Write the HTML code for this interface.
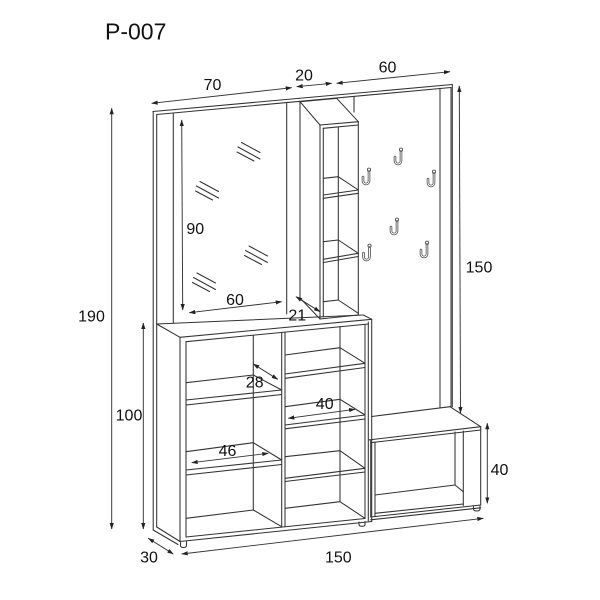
<!DOCTYPE html>
<html>
<head>
<meta charset="utf-8">
<style>
html,body{margin:0;padding:0;background:#fff;}
svg{display:block;}
text{font-family:"Liberation Sans",Arial,sans-serif;fill:#111;}
</style>
</head>
<body>
<svg width="600" height="600" viewBox="0 0 600 600" xmlns="http://www.w3.org/2000/svg">
<defs>
<marker id="a" markerWidth="7" markerHeight="6" refX="6" refY="3" orient="auto-start-reverse" markerUnits="userSpaceOnUse">
<path d="M0,0.9 L6.5,3 L0,5.1z" fill="#222"/>
</marker>
<g id="hook">
<path d="M1,-6.5 L1,3 A3,3 0 0 1 -5,3 L-5,-1" fill="none" stroke="#555" stroke-width="2.6" stroke-linecap="round"/>
<path d="M1,-6.5 L1,3 A3,3 0 0 1 -5,3 L-5,-1" fill="none" stroke="#fff" stroke-width="0.9" stroke-linecap="round"/>
<circle cx="1" cy="-8.3" r="1.6" fill="none" stroke="#555" stroke-width="0.9"/>
</g>
</defs>

<rect width="600" height="600" fill="#fff"/>

<text x="105" y="39.5" font-size="23">P-007</text>

<g fill="none" stroke="#333" stroke-width="1.05" stroke-linecap="round">
<!-- back panel -->
<line x1="153" y1="111.5" x2="452.3" y2="84.5"/>
<line x1="156.7" y1="114.5" x2="451" y2="87.5"/>
<line x1="153.2" y1="111.5" x2="153.2" y2="530"/>
<line x1="156.7" y1="114.5" x2="156.7" y2="527"/>
<line x1="173.3" y1="113" x2="173.3" y2="323"/>
<line x1="286.7" y1="103.5" x2="286.7" y2="314"/>
<line x1="300" y1="102" x2="300" y2="298"/>
<line x1="354" y1="96.5" x2="354" y2="112"/>
<line x1="440" y1="88.3" x2="440" y2="407.6"/>
<line x1="451" y1="87.5" x2="451" y2="406.8"/>
<line x1="452.3" y1="84.5" x2="452.3" y2="406.7"/>

<!-- mirror hatches -->
<line x1="241.5" y1="142.5" x2="260" y2="152.5"/>
<line x1="238" y1="147" x2="260" y2="159"/>
<line x1="237" y1="152" x2="254" y2="161"/>

<line x1="200" y1="181.5" x2="218.5" y2="191.5"/>
<line x1="196.5" y1="186" x2="218.5" y2="198"/>
<line x1="195.5" y1="191" x2="212.5" y2="200"/>

<line x1="249" y1="246" x2="267.5" y2="256"/>
<line x1="245.5" y1="250.5" x2="267.5" y2="262.5"/>
<line x1="244.5" y1="255.5" x2="261.5" y2="264.5"/>

<line x1="197" y1="273" x2="215.5" y2="283"/>
<line x1="193.5" y1="277.5" x2="215.5" y2="289.5"/>
<line x1="192.5" y1="282.5" x2="209.5" y2="291.5"/>

<!-- shelf column -->
<line x1="300" y1="101.7" x2="336.7" y2="98.3"/>
<line x1="336.7" y1="98.3" x2="358.3" y2="121.7"/>
<line x1="300" y1="101.7" x2="320" y2="125"/>
<line x1="320" y1="125" x2="358.3" y2="121.7"/>
<line x1="323.3" y1="128.3" x2="358.3" y2="125"/>
<line x1="320" y1="125" x2="320" y2="319"/>
<line x1="323.3" y1="128.3" x2="323.3" y2="317"/>
<line x1="358.3" y1="121.7" x2="358.3" y2="315"/>
<line x1="338.3" y1="127" x2="338.3" y2="300"/>
<line x1="300" y1="298" x2="320" y2="319"/>
<!-- column shelves -->
<line x1="323.3" y1="178.3" x2="338.3" y2="176.7"/>
<line x1="338.3" y1="176.7" x2="358.3" y2="190"/>
<line x1="323.3" y1="195" x2="358.3" y2="190"/>
<line x1="323.3" y1="198.3" x2="358.3" y2="193.3"/>
<line x1="323.3" y1="241.7" x2="338.3" y2="240"/>
<line x1="338.3" y1="240" x2="358.3" y2="253.3"/>
<line x1="323.3" y1="259.3" x2="358.3" y2="253.3"/>
<line x1="323.3" y1="262.5" x2="358.3" y2="256.5"/>
<line x1="323.3" y1="301.7" x2="338.3" y2="300"/>
<line x1="338.3" y1="300" x2="358.3" y2="313.3"/>
<line x1="320" y1="319" x2="358.3" y2="315"/>

<!-- lower cabinet -->
<line x1="156.7" y1="324" x2="363.3" y2="315"/>
<line x1="363.3" y1="315" x2="371.7" y2="319.3"/>
<line x1="156.7" y1="324" x2="180" y2="337.3"/>
<line x1="180" y1="337.3" x2="371.7" y2="319.3"/>
<line x1="186" y1="341.7" x2="368.3" y2="324"/>
<line x1="180" y1="337.3" x2="180" y2="541.5"/>
<line x1="186" y1="341.7" x2="186" y2="537"/>
<line x1="281.7" y1="332.7" x2="281.7" y2="527"/>
<line x1="285" y1="332.3" x2="285" y2="526.5"/>
<line x1="253.3" y1="335.5" x2="253.3" y2="510"/>
<line x1="340" y1="326.5" x2="340" y2="501.7"/>
<line x1="365" y1="324.5" x2="365" y2="518.5"/>
<line x1="368.3" y1="322" x2="368.3" y2="521"/>
<line x1="371.7" y1="319.3" x2="371.7" y2="521.5"/>

<!-- left shelves -->
<line x1="186" y1="382.7" x2="253.3" y2="375"/>
<line x1="253.3" y1="375" x2="281.7" y2="390"/>
<line x1="186" y1="400" x2="281.7" y2="390"/>
<line x1="186" y1="405" x2="281.7" y2="394.5"/>
<line x1="186" y1="451.7" x2="253.3" y2="442.7"/>
<line x1="253.3" y1="442.7" x2="281.7" y2="460"/>
<line x1="186" y1="470" x2="281.7" y2="460"/>
<line x1="186" y1="475" x2="281.7" y2="464.5"/>
<line x1="186" y1="518.3" x2="253.3" y2="510"/>
<line x1="253.3" y1="510" x2="281.7" y2="526.7"/>

<!-- right shelves -->
<line x1="285" y1="355" x2="340" y2="347.7"/>
<line x1="340" y1="347.7" x2="365" y2="363.3"/>
<line x1="285" y1="374" x2="365" y2="363.3"/>
<line x1="285" y1="378.3" x2="365" y2="367.5"/>
<line x1="285" y1="406.7" x2="340" y2="399.3"/>
<line x1="340" y1="399.3" x2="365" y2="415"/>
<line x1="285" y1="425" x2="365" y2="415"/>
<line x1="285" y1="428.8" x2="365" y2="419"/>
<line x1="285" y1="456.7" x2="340" y2="450.7"/>
<line x1="340" y1="450.7" x2="365" y2="468.3"/>
<line x1="285" y1="478.3" x2="365" y2="468.3"/>
<line x1="285" y1="481.5" x2="365" y2="472"/>
<line x1="285" y1="508.3" x2="340" y2="501.7"/>
<line x1="340" y1="501.7" x2="365" y2="518.3"/>

<!-- cabinet bottom -->
<line x1="186" y1="537" x2="365" y2="518.5"/>
<line x1="180" y1="541.5" x2="371.7" y2="521.5"/>
<line x1="156.7" y1="527" x2="180" y2="541.5"/>
<line x1="153.2" y1="530" x2="178" y2="544.5"/>
<path d="M180.5,542.5 L180.5,545.5 Q180.5,547.5 183.5,547.5 Q186.5,547.5 186.5,545.5 L186.5,541.8"/>
<path d="M359,522 L359,524.5 Q359,526.3 362,526.3 Q365,526.3 365,524.5 L365,521.5"/>

<!-- bench -->
<line x1="371.7" y1="416.5" x2="450" y2="406.7"/>
<line x1="450" y1="406.7" x2="480.7" y2="426.7"/>
<line x1="368.3" y1="440" x2="480.7" y2="426.7"/>
<line x1="370.7" y1="442.7" x2="480.7" y2="430"/>
<line x1="370.7" y1="440" x2="370.7" y2="517"/>
<line x1="375" y1="442.2" x2="375" y2="516"/>
<line x1="480.7" y1="426.7" x2="480.7" y2="505"/>
<line x1="463.3" y1="431" x2="463.3" y2="505.5"/>
<line x1="455" y1="432" x2="455" y2="485"/>
<line x1="375" y1="495" x2="455" y2="485"/>
<line x1="455" y1="485" x2="463.3" y2="491.7"/>
<line x1="375" y1="513.3" x2="463.3" y2="504"/>
<line x1="370.7" y1="517" x2="480.7" y2="505"/>
<line x1="370.7" y1="519.8" x2="480.7" y2="507.8"/>
<path d="M473.5,506.5 L473.5,509 Q473.5,511 476.8,511 Q480,511 480,509 L480,506"/>
</g>

<!-- hooks -->
<use href="#hook" x="400" y="158"/>
<use href="#hook" x="368" y="178"/>
<use href="#hook" x="433" y="180"/>
<use href="#hook" x="396" y="228"/>
<use href="#hook" x="368.5" y="254"/>
<use href="#hook" x="426" y="251"/>

<!-- dimension lines -->
<g fill="none" stroke="#333" stroke-width="0.95" marker-start="url(#a)" marker-end="url(#a)">
<line x1="151.7" y1="103.3" x2="291.7" y2="87.7"/>
<line x1="296.7" y1="86.7" x2="331.7" y2="83.3"/>
<line x1="336.7" y1="83.3" x2="450" y2="71.7"/>
<line x1="111.7" y1="108.3" x2="111.7" y2="529"/>
<line x1="143.3" y1="323" x2="143.3" y2="529"/>
<line x1="459.3" y1="86" x2="460.5" y2="413"/>
<line x1="181.7" y1="120" x2="182.7" y2="310"/>
<line x1="189.3" y1="312.7" x2="281.7" y2="301.7"/>
<line x1="296" y1="296.7" x2="320" y2="311.7"/>
<line x1="253.3" y1="364" x2="277.7" y2="379.3"/>
<line x1="288.3" y1="418.3" x2="355" y2="409.3"/>
<line x1="191.7" y1="462.7" x2="268.3" y2="453.3"/>
<line x1="487.3" y1="423.3" x2="487.3" y2="503.3"/>
<line x1="181.7" y1="554" x2="483.3" y2="518.3"/>
<line x1="148.3" y1="538.3" x2="173.3" y2="554"/>
</g>

<!-- labels -->
<g font-size="16" text-anchor="middle">
<text x="212.5" y="90">70</text>
<text x="304" y="80.7">20</text>
<text x="387.5" y="72.7">60</text>
<text x="91.5" y="321.5">190</text>
<text x="129" y="420.7">100</text>
<text x="479" y="272.7">150</text>
<text x="195.3" y="234">90</text>
<text x="235" y="305">60</text>
<text x="297.3" y="320.7">21</text>
<text x="254.7" y="387.7">28</text>
<text x="324.7" y="409">40</text>
<text x="227.5" y="456">46</text>
<text x="499.5" y="475">40</text>
<text x="338.3" y="562.3">150</text>
<text x="149" y="562.3">30</text>
</g>
</svg>
</body>
</html>
